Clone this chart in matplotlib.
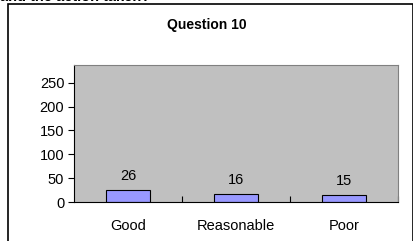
import matplotlib.pyplot as plt
from matplotlib.patches import Rectangle

plt.rcParams['font.family'] = ['Liberation Sans', 'DejaVu Sans']

# Data
categories = ["Good", "Reasonable", "Poor"]
counts = [26, 16, 15]
y_ticks = [0, 50, 100, 150, 200, 250]

W, H = 414, 241
fig = plt.figure(figsize=(W / 100, H / 100), dpi=100)

# outer chart frame (bottom runs off the image)
fig.patches.append(Rectangle((8 / W, -0.05), (W - 8.5) / W, (H - 4) / H + 0.05,
                             transform=fig.transFigure, fill=False,
                             edgecolor="black", linewidth=1.2))

# heading from the page above, mostly cut off
fig.text(0.0, 1 - 1.2 / H, "and the action taken?", fontsize=10.5, fontweight="bold",
         ha="left", va="baseline")

ax = fig.add_axes([74 / W, 1 - 202 / H, (398 - 74) / W, (202 - 65) / H])
ax.set_facecolor("#c0c0c0")

x = range(len(categories))
bars = ax.bar(x, counts, width=0.4, color="#9999ff", edgecolor="black", linewidth=0.8)
for b, v in zip(bars, counts):
    ax.annotate(str(v), (b.get_x() + b.get_width() / 2, v), xytext=(0, 5),
                textcoords="offset points", ha="center", va="bottom", fontsize=10.5)

ax.set_xlim(-0.5, len(categories) - 0.5)
ax.set_ylim(0, 287)
ax.set_yticks(y_ticks)
ax.set_xticks([0.5, 1.5, 2.5], minor=False)
ax.set_xticklabels([])
ax.set_xticks(list(x), minor=True)
ax.set_xticklabels(categories, minor=True)
ax.tick_params(axis="x", which="minor", length=0, pad=12, labelsize=10.5)
ax.tick_params(axis="x", which="major", length=4, direction="in", width=0.8)
ax.tick_params(axis="y", length=4, direction="out", labelsize=10.5, width=0.8, pad=3)

for s in ["top", "right"]:
    ax.spines[s].set_color("#808080")
    ax.spines[s].set_linewidth(0.8)
ax.spines["left"].set_color("black")
ax.spines["bottom"].set_color("black")

fig.text(207 / W, 1 - 25 / H, "Question 10", ha="center", va="center",
         fontsize=10, fontweight="bold")

fig.savefig("out.png", dpi=100)
